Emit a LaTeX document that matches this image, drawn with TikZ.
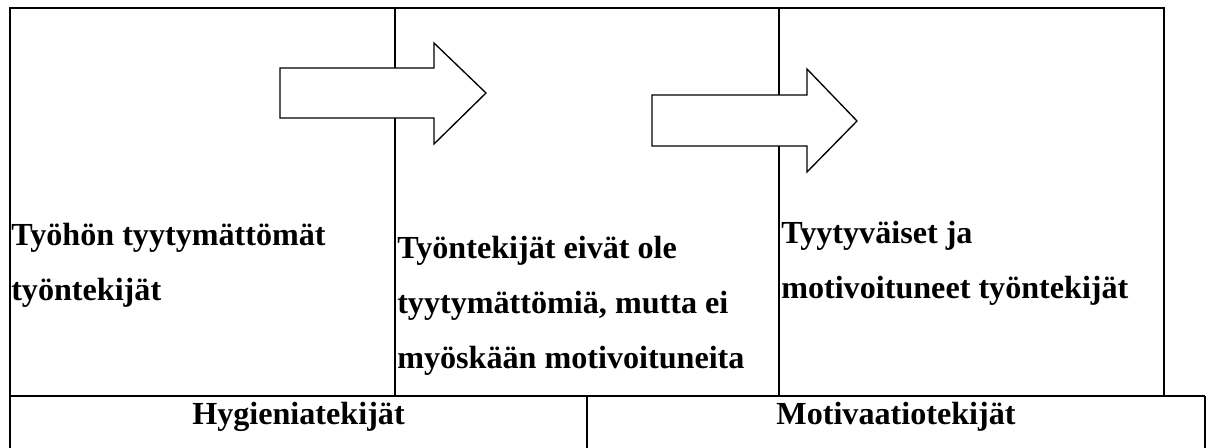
\documentclass[tikz,border=0pt]{standalone}
\usepackage{fontspec}
\setmainfont{Liberation Serif}
\begin{document}
\begin{tikzpicture}[x=0.75pt,y=-0.75pt,
  frame/.style={line width=1.5pt, black},
  bigarrow/.style={line width=1pt, black, fill=white, line join=miter},
  txt/.style={font=\fontsize{24.1}{28}\selectfont\bfseries, inner sep=0pt, anchor=base west},
  ctxt/.style={font=\fontsize{24.1}{28}\selectfont\bfseries, inner sep=0pt, anchor=base}]
\useasboundingbox (0,0) rectangle (1207,448);
% top row frame
\draw[frame] (10,8) rectangle (1164,396);
\draw[frame] (395,8) -- (395,396);
\draw[frame] (779,8) -- (779,396);
% bottom row
\draw[frame] (10,396) -- (1205,396);
\draw[frame] (10,396) -- (10,449);
\draw[frame] (587,396) -- (587,449);
\draw[frame] (1205,396) -- (1205,449);
% arrows
\draw[bigarrow] (280,68) -- (434,68) -- (434,43) -- (486,93) -- (434,144) -- (434,118) -- (280,118) -- cycle;
\draw[bigarrow] (652,95) -- (807,95) -- (807,69) -- (857,121) -- (807,172) -- (807,146) -- (652,146) -- cycle;
% texts
\node[txt] (c1a) at (11,246) {Työhön tyytymättömät};
\node[txt] (c1b) at (11,301) {työntekijät};
\node[txt] (c2a) at (397,259) {Työntekijät eivät ole};
\node[txt] (c2b) at (397,314) {tyytymättömiä, mutta ei};
\node[txt] (c2c) at (397,369) {myöskään motivoituneita};
\node[txt] (c3a) at (781,244) {Tyytyväiset ja};
\node[txt] (c3b) at (781,299) {motivoituneet työntekijät};
\node[ctxt] (h) at (298.5,425) {Hygieniatekijät};
\node[ctxt] (m) at (896,425) {Motivaatiotekijät};
\end{tikzpicture}
\end{document}
